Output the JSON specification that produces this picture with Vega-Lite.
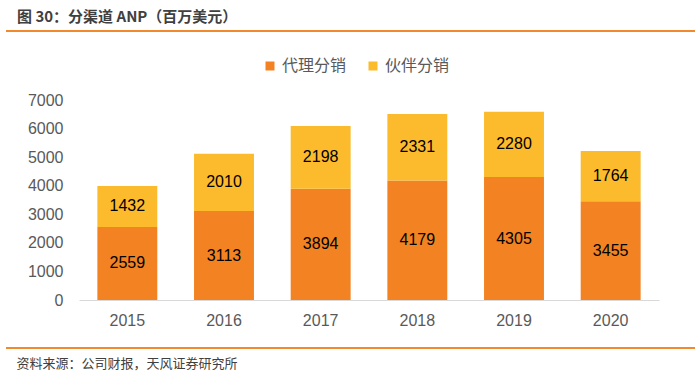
{
  "$schema": "https://vega.github.io/schema/vega-lite/v6.json",
  "width": 580,
  "height": 200,
  "autosize": "none",
  "padding": {"left": 79, "top": 100, "right": 41, "bottom": 80},
  "background": "white",
  "config": {"view": {"stroke": null}, "font": "Liberation Sans"},
  "title": {
    "text": "图 30：分渠道 ANP（百万美元）",
    "font": "Noto Sans CJK SC",
    "fontSize": 15,
    "fontWeight": "bold",
    "color": "#404040",
    "anchor": "start",
    "frame": "group",
    "dx": -62,
    "offset": 5
  },
  "data": {
    "values": [
      {"year": "2015", "series": "代理分销", "value": 2559},
      {"year": "2015", "series": "伙伴分销", "value": 1432},
      {"year": "2016", "series": "代理分销", "value": 3113},
      {"year": "2016", "series": "伙伴分销", "value": 2010},
      {"year": "2017", "series": "代理分销", "value": 3894},
      {"year": "2017", "series": "伙伴分销", "value": 2198},
      {"year": "2018", "series": "代理分销", "value": 4179},
      {"year": "2018", "series": "伙伴分销", "value": 2331},
      {"year": "2019", "series": "代理分销", "value": 4305},
      {"year": "2019", "series": "伙伴分销", "value": 2280},
      {"year": "2020", "series": "代理分销", "value": 3455},
      {"year": "2020", "series": "伙伴分销", "value": 1764}
    ]
  },
  "transform": [
    {"stack": "value", "groupby": ["year"], "sort": [{"field": "series", "order": "ascending"}], "as": ["y0", "y1"]},
    {"calculate": "(datum.y0 + datum.y1) / 2", "as": "ymid"}
  ],
  "layer": [
    {
      "mark": {"type": "bar"},
      "encoding": {
        "x": {
          "field": "year", "type": "ordinal",
          "scale": {"paddingInner": 0.38, "paddingOuter": 0.19},
          "axis": {
            "title": "资料来源：公司财报，天风证券研究所",
            "titleFont": "Noto Sans CJK SC",
            "titleFontSize": 13,
            "titleFontWeight": "normal",
            "titleColor": "#404040",
            "titleAnchor": "start",
            "titleAlign": "left",
            "titleBaseline": "middle",
            "titleX": -63,
            "titleY": 63,
            "labelAngle": 0,
            "labelFontSize": 16,
            "labelColor": "#595959",
            "labelPadding": 12,
            "ticks": false,
            "domainColor": "#d9d9d9",
            "domainWidth": 1
          }
        },
        "y": {
          "field": "y0", "type": "quantitative",
          "scale": {"domain": [0, 7000], "nice": false},
          "axis": {
            "title": null,
            "values": [0, 1000, 2000, 3000, 4000, 5000, 6000, 7000],
            "format": "d",
            "labelOverlap": false,
            "labelFontSize": 16,
            "labelColor": "#595959",
            "labelPadding": 16,
            "domain": false,
            "ticks": false,
            "grid": false
          }
        },
        "y2": {"field": "y1"},
        "color": {
          "field": "series", "type": "nominal",
          "scale": {"domain": ["代理分销", "伙伴分销"], "range": ["#F38322", "#FBBB2D"]},
          "legend": {
            "title": null,
            "orient": "none",
            "direction": "horizontal",
            "legendX": 183,
            "legendY": -42,
            "symbolType": "square",
            "symbolSize": 81,
            "symbolStrokeWidth": 0,
            "labelFont": "Noto Sans CJK SC",
            "labelFontSize": 16,
            "labelColor": "#595959",
            "labelOffset": 4,
            "columnPadding": 18
          }
        }
      }
    },
    {
      "mark": {"type": "text", "fontSize": 16, "color": "#000000", "baseline": "middle", "align": "center"},
      "encoding": {
        "x": {
          "field": "year", "type": "ordinal",
          "axis": {
            "title": "资料来源：公司财报，天风证券研究所",
            "titleFont": "Noto Sans CJK SC",
            "titleFontSize": 13,
            "titleFontWeight": "normal",
            "titleColor": "#404040",
            "titleAnchor": "start",
            "titleAlign": "left",
            "titleBaseline": "middle",
            "titleX": -63,
            "titleY": 63,
            "labelAngle": 0,
            "labelFontSize": 16,
            "labelColor": "#595959",
            "labelPadding": 12,
            "ticks": false,
            "domainColor": "#d9d9d9",
            "domainWidth": 1
          }
        },
        "y": {
          "field": "ymid", "type": "quantitative",
          "axis": {
            "title": null,
            "values": [0, 1000, 2000, 3000, 4000, 5000, 6000, 7000],
            "format": "d",
            "labelOverlap": false,
            "labelFontSize": 16,
            "labelColor": "#595959",
            "labelPadding": 16,
            "domain": false,
            "ticks": false,
            "grid": false
          }
        },
        "text": {"field": "value", "type": "quantitative", "format": "d"}
      }
    },
    {
      "mark": {"type": "rule", "color": "#F08A2E", "strokeWidth": 1.5},
      "encoding": {"x": {"value": -73}, "x2": {"value": 616}, "y": {"value": -69}}
    },
    {
      "mark": {"type": "rule", "color": "#F08A2E", "strokeWidth": 1.5},
      "encoding": {"x": {"value": -73}, "x2": {"value": 616}, "y": {"value": 248}}
    }
  ]
}
